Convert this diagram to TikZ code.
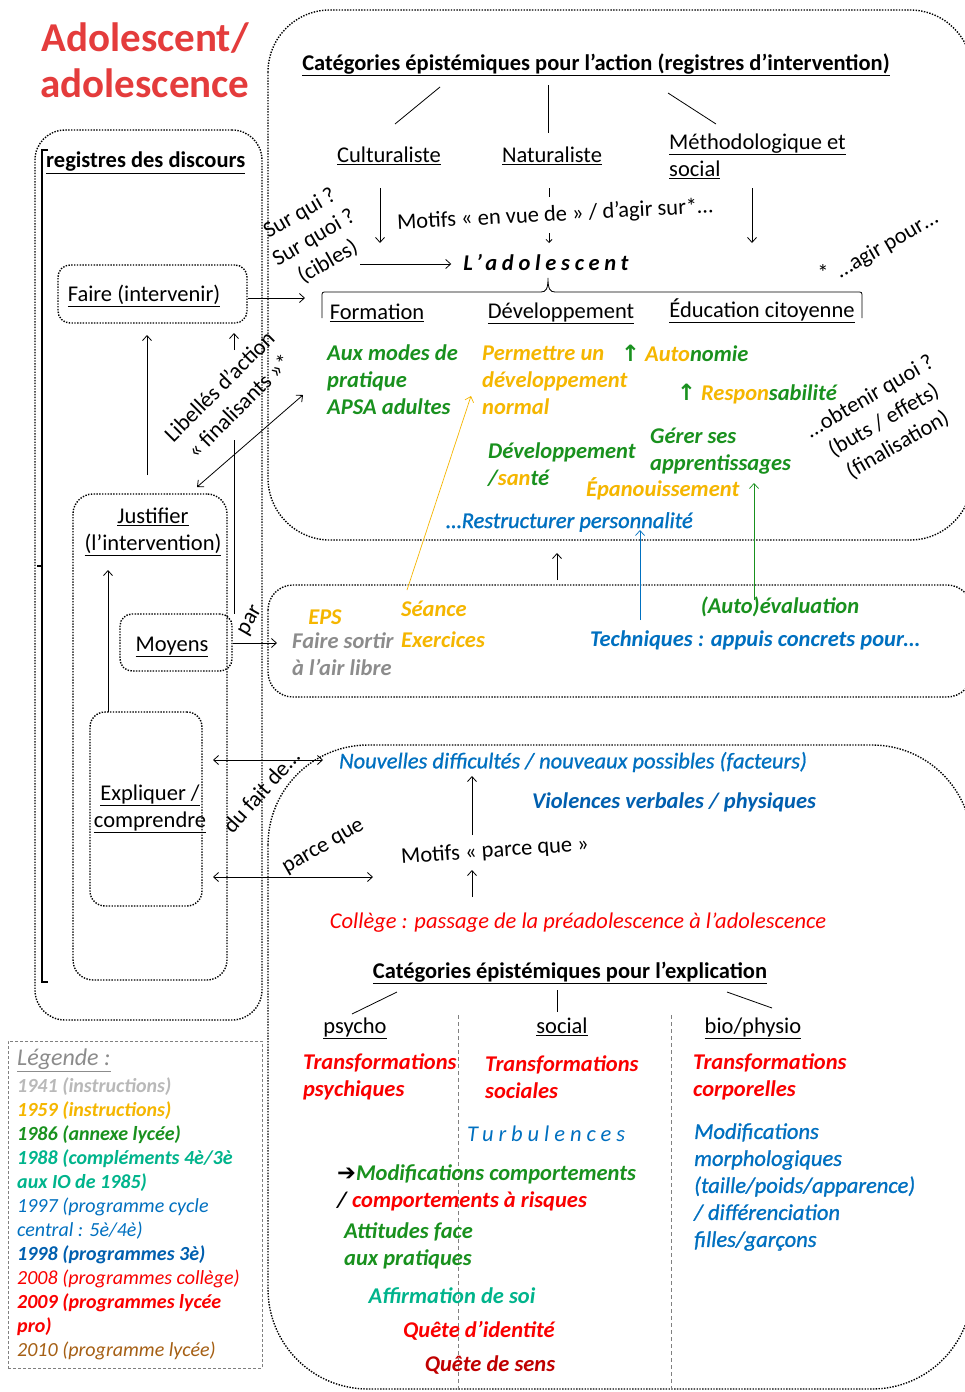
\documentclass[tikz,border=0pt]{standalone}
\usepackage{fontspec}
\setmainfont{Carlito}
\newfontfamily\djv{DejaVu Sans}
\usetikzlibrary{arrows.meta}
\definecolor{cgreen}{RGB}{25,145,30}
\definecolor{cgold}{RGB}{245,182,0}
\definecolor{cblue}{RGB}{0,112,192}
\definecolor{cdblue}{RGB}{0,95,175}
\definecolor{cred}{RGB}{250,0,0}
\definecolor{cteal}{RGB}{0,180,140}
\definecolor{cgray}{RGB}{140,140,140}
\definecolor{clgray}{RGB}{185,185,185}
\definecolor{cdred}{RGB}{192,0,0}
\definecolor{cbrown}{RGB}{165,95,20}
\definecolor{ctitle}{RGB}{228,60,60}
\newcommand\fm{\fontsize{22.5}{27}\selectfont}
\newcommand\fsm{\fontsize{20}{24}\selectfont}
\begin{document}
\begin{tikzpicture}[x=1pt,y=-1pt,
  dotln/.style={line width=1.4pt, dash pattern=on 1.4pt off 1.4pt},
  box/.style={draw, dotln, rounded corners=#1, inner sep=0pt},
  box/.default=15pt,
  arr/.style={-{Straight Barb[length=5pt,width=9pt]}, line width=0.8pt},
  darr/.style={{Straight Barb[length=5pt,width=9pt]}-{Straight Barb[length=5pt,width=9pt]}, line width=0.8pt},
  t/.style={font=\fm, inner sep=1pt},
  tb/.style={font=\fm\bfseries, inner sep=1pt},
  tbi/.style={font=\fm\bfseries\itshape, inner sep=1pt},
  ti/.style={font=\fm\itshape, inner sep=1pt},
  lw/.style={anchor=west},
  ml/.style={align=left, anchor=west}]
\useasboundingbox (0,0) rectangle (965,1392);
\fill[white] (0,0) rectangle (965,1392);

% ---------- title ----------
\node[font=\bfseries\fontsize{41}{46}\selectfont, text=ctitle, align=center] (title) at (145,60) {Adolescent/\\adolescence};

% ---------- left column ----------
\node[box=30pt, minimum width=227pt, minimum height=890pt] (outer) at (148.5,575) {};
\node[tb, lw] (reg) at (45,163) {\underline{registres des discours}};
\draw[line width=2pt] (48,150) -- (42,150) -- (42,982) -- (48,982);
\draw[line width=2pt] (42,566) -- (37,566);

\node[box=12pt, minimum width=189pt, minimum height=58pt] (faire) at (152.5,294) {};
\node[t] (fairet) at (144,296) {\underline{Faire (intervenir)}};
\node[box=20pt, minimum width=154pt, minimum height=486pt] (justif) at (150,737) {};
\node[t, align=center] (justift) at (153,532) {\underline{Justifier}\\\underline{(l’intervention)}};
\node[box=12pt, minimum width=112pt, minimum height=57pt] (moyens) at (176,642.5) {};
\node[t] (moyenst) at (172,647) {\underline{Moyens}};
\node[box=15pt, minimum width=112pt, minimum height=194pt] (expl) at (146,809) {};
\node[t, align=center] (explt) at (150,809) {\underline{Expliquer /}\\\underline{comprendre}};

% arrows of the left column
\coordinate (fa1) at (305,298);
\draw[arr] (faire.east |- fa1) -- (fa1);
\coordinate (ja) at (147,475);
\coordinate (fb) at (147,335);
\draw[arr] (ja) -- (fb);
\coordinate (mv1) at (234,350);
\coordinate (mv2) at (234,333);
\coordinate (mv3) at (234,440);
\coordinate (mv4) at (234,614);
\draw[arr] (mv1) -- (mv2);
\draw[line width=0.8pt] (mv3) -- (mv4);
\node[t, align=center, rotate=45] (libel) at (229,396) {Libellés d’action\\[1pt]« finalisants »*};
\coordinate (la1) at (197,487);
\coordinate (la2) at (303,395);
\draw[darr] (la1) -- (la2);
\coordinate (ea) at (108,712);
\coordinate (eb) at (108,570);
\draw[arr] (ea) -- (eb);
\coordinate (pa) at (277,643);
\draw[arr] (moyens.east |- pa) -- (pa);
\node[t, rotate=60] (par) at (251,621) {par};
\coordinate (d1) at (213,760);
\coordinate (d2) at (323,760);
\draw[darr] (d1) -- (d2);
\node[t, rotate=48] (dufait) at (261,791) {du fait de…};
\coordinate (p1) at (213,877);
\coordinate (p2) at (373,877);
\draw[darr] (p1) -- (p2);
\node[t, rotate=30] (parceque) at (324,848) {parce que};

% ---------- right shapes ----------
\draw[dotln, rounded corners=62pt] (268,10) rectangle (972,540);
\draw[dotln, rounded corners=25pt] (268,585) rectangle (972,697);
\draw[dotln, rounded corners=100pt] (268,745) rectangle (972,1389);

% ---------- top right ----------
\node[tb] (catA) at (596,65) {\underline{Catégories épistémiques pour l’action (registres d’intervention)}};
\node[t] (cult) at (389,156) {\underline{Culturaliste}};
\node[t] (natu) at (552,156) {\underline{Naturaliste}};
\node[t, ml] (metho) at (668,156) {\underline{Méthodologique et}\\\underline{social}};
\draw[line width=0.8pt] (440,87) -- (395,124);
\draw[line width=0.8pt] (548,85) -- (548,133);
\draw[line width=0.8pt] (668,93) -- (716,124);
\coordinate (c1) at (380,188); \coordinate (c2) at (380,243);
\draw[arr] (c1) -- (c2);
\coordinate (m1) at (752,188); \coordinate (m2) at (752,243);
\draw[arr] (m1) -- (m2);
\coordinate (n1) at (549,188); \coordinate (n2) at (549,197);
\coordinate (n3) at (549,233); \coordinate (n4) at (549,243);
\draw[line width=0.8pt] (n1) -- (n2);
\draw[-{Straight Barb[length=3pt,width=6pt]}, line width=0.8pt] (n3) -- (n4);
\node[t, rotate=3] (motifs1) at (555,215) {Motifs « en vue de » / d’agir sur*…};
\node[t, align=center, rotate=30] (surqui) at (314,238) {Sur qui ?\\[1pt]Sur quoi ?\\[1pt](cibles)};
\node[tbi, font=\fm\bfseries\itshape\addfontfeatures{LetterSpace=21}] (ado) at (546,262) {L’adolescent};
\coordinate (s1) at (360,264);
\draw[arr, shorten >=11pt] (s1) -- (ado.west |- s1);
\draw[line width=0.8pt] (322,318) -- (322,297) .. controls (322,292) .. (327,292) -- (541,292)
  .. controls (546,292) and (548,289) .. (548,278)
  .. controls (548,289) and (550,292) .. (555,292) -- (857,292) .. controls (862,292) .. (862,297) -- (862,318);
\node[t] (form) at (377,313) {\underline{Formation}};
\node[t] (devel) at (561,313) {\underline{Développement}};
\node[t] (educ) at (762,311) {\underline{Éducation citoyenne}};
\node[t] (star) at (823,273) {*};
\node[t, rotate=30] (agir) at (887,245) {…agir pour…};

\node[tbi, ml, text=cgreen] (auxmodes) at (326,380) {Aux modes de\\pratique\\APSA adultes};
\node[tbi, ml, text=cgold] (permettre) at (481,380) {Permettre un\\développement\\normal};
\node[tbi, lw, text=cgreen] (auto) at (620,353) {{\djv\bfseries ↑} {\color{cgold}Auto}nomie};
\node[tbi, lw, text=cgreen] (respo) at (676,394) {{\djv\bfseries ↑} {\color{cgold}Respon}sabilité};
\node[tbi, ml, text=cgreen] (devsante) at (487,465) {Développement\\/{\color{cgold}san}té};
\node[tbi, ml, text=cgreen] (gerer) at (649,451) {Gérer ses\\apprentissages};
\node[tbi, lw, text=cgold] (epan) at (585,489) {Épanouissement};
\node[tbi, lw, text=cblue, font=\fm\itshape\addfontfeatures{FakeBold=1.2}] (restr) at (445,522) {…Restructurer personnalité};
\node[t, align=center, rotate=30] (obtenir) at (884,421) {…obtenir quoi ?\\[1pt](buts / effets)\\[1pt](finalisation)};

% ---------- middle band ----------
\node[tbi, text=cgold] (eps) at (325,617) {EPS};
\node[tbi, ml, text=cgray] (fairesortir) at (291,654) {Faire sortir\\à l’air libre};
\node[tbi, lw, text=cgold] (seance) at (400,609) {Séance};
\node[tbi, lw, text=cgold] (exerc) at (400,640) {Exercices};
\node[tbi, text=cgreen] (autoeval) at (780,607) {(Auto)évaluation};
\node[tbi, text=cblue] (techn) at (755,640) {Techniques : appuis concrets pour…};
\coordinate (y1) at (407,590); \coordinate (y2) at (471,396);
\draw[arr, cgold, line width=0.7pt] (y1) -- (y2);
\coordinate (k1) at (557,580); \coordinate (k2) at (557,553);
\draw[arr] (k1) -- (k2);
\coordinate (b1) at (640,620); \coordinate (b2) at (640,530);
\draw[arr, cblue, line width=0.7pt] (b1) -- (b2);
\coordinate (g1) at (754,600); \coordinate (g2) at (754,483);
\draw[arr, cgreen, line width=0.7pt] (g1) -- (g2);

% ---------- bottom ----------
\node[ti, text=cblue, font=\fm\itshape\addfontfeatures{FakeBold=0.8}] (nouv) at (573,762) {Nouvelles difficultés / nouveaux possibles (facteurs)};
\node[tbi, text=cdblue] (viol) at (674,802) {Violences verbales / physiques};
\node[t, rotate=4] (motifs2) at (495,851) {Motifs « parce que »};
\coordinate (u1) at (472,835); \coordinate (u2) at (472,776);
\draw[arr] (u1) -- (u2);
\coordinate (u3) at (472,897); \coordinate (u4) at (472,870);
\draw[arr] (u3) -- (u4);
\node[ti, text=cred] (college) at (578,923) {Collège : passage de la préadolescence à l’adolescence};
\node[tb] (catE) at (570,973) {\underline{Catégories épistémiques pour l’explication}};
\draw[line width=0.8pt] (397,992) -- (352,1014);
\draw[line width=0.8pt] (557,990) -- (557,1012);
\draw[line width=0.8pt] (727,992) -- (772,1008);
\node[t] (psycho) at (355,1028) {\underline{psycho}};
\node[t] (social) at (562,1027) {\underline{social}};
\node[t] (bio) at (753,1028) {\underline{bio/physio}};
\draw[gray, line width=0.8pt, dash pattern=on 4pt off 3pt] (458,1015) -- (458,1392);
\draw[gray, line width=0.8pt, dash pattern=on 4pt off 3pt] (671,1015) -- (671,1392);

\node[tbi, ml, text=cred] (trpsy) at (302,1077) {Transformations\\psychiques};
\node[tbi, ml, text=cred] (trsoc) at (484,1077) {Transformations\\sociales};
\node[tbi, ml, text=cred] (trcor) at (692,1077) {Transformations\\corporelles};
\node[ti, lw, text=cblue, font=\fm\itshape\addfontfeatures{LetterSpace=22}] (turb) at (466,1134) {Turbulences};
\node[ti, ml, text=cblue, font=\fm\itshape\addfontfeatures{FakeBold=1}] (modif) at (693,1187) {Modifications\\morphologiques\\(taille/poids/apparence)\\/ différenciation\\filles/garçons};
\node[tbi, ml, text=cgreen] (comport) at (336,1188) {{\color{black}\djv\bfseries ➔}Modifications comportements\\{\color{black}/ }{\color{cred}comportements à risques}};
\node[tbi, ml, text=cgreen] (attit) at (343,1246) {Attitudes face\\aux pratiques};
\node[tbi, text=cteal] (affirm) at (452,1296) {Affirmation de soi};
\node[tbi, text=cred] (quete1) at (479,1331) {Quête d’identité};
\node[tbi, text=cdred] (quete2) at (490,1365) {Quête de sens};

% ---------- legend ----------
\node[draw=gray, densely dashed, line width=0.6pt, minimum width=254pt, minimum height=327pt, inner sep=0pt] (legend) at (135,1204.5) {};
\node[lw, inner sep=1pt, font=\fontsize{24}{28}\selectfont\itshape, text=cgray] (legt) at (16,1060) {\underline{Légende :}};
\node[ml, inner sep=1pt, font=\fsm\itshape] (legl) at (16,1219) {%
{\bfseries\color{clgray}1941 (instructions)}\\
{\bfseries\color{cgold}1959 (instructions)}\\
{\bfseries\color{cgreen}1986 (annexe lycée)}\\
{\bfseries\color{cteal}1988 (compléments 4è/3è}\\
{\bfseries\color{cteal}aux IO de 1985)}\\
{\color{cblue}1997 (programme cycle}\\
{\color{cblue}central : 5è/4è)}\\
{\bfseries\color{cdblue}1998 (programmes 3è)}\\
{\color{cred}2008 (programmes collège)}\\
{\bfseries\color{cred}2009 (programmes lycée}\\
{\bfseries\color{cred}pro)}\\
{\color{cbrown}2010 (programme lycée)}};
\end{tikzpicture}
\end{document}
